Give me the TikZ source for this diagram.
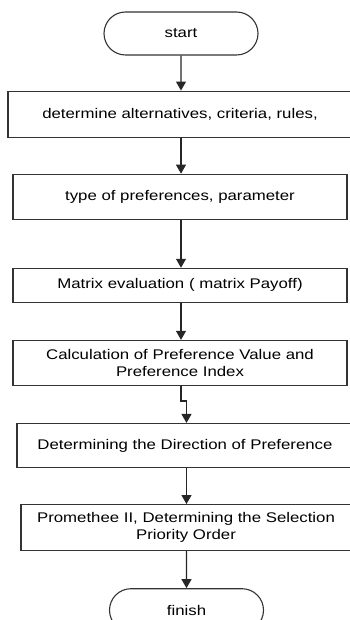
\documentclass[tikz,border=0pt]{standalone}
\usepackage{fontspec}
\setmainfont{Liberation Sans}[FakeStretch=1.2]
\usetikzlibrary{arrows.meta,positioning,shapes.misc}

\begin{document}
\begin{tikzpicture}[
    x=1pt, y=1pt,
    font=\fontsize{14}{16.5}\selectfont,
    node distance=36pt,
    term/.style={draw=black!80, line width=1.1pt, rounded rectangle, minimum width=154pt, minimum height=43pt, inner sep=0pt},
    box/.style={draw=black!80, line width=1.1pt, align=center, minimum height=45pt, inner sep=0pt},
    line/.style={-{Triangle[width=10pt,length=9pt]}, line width=1.1pt, black!85}
]
\useasboundingbox (0,0) rectangle (350,-620);
\node[term] (start) at (181,-33.5) {start};
\node[box, minimum width=344pt, minimum height=46pt, below=35pt of start, xshift=-1pt] (alts) {determine alternatives, criteria, rules,};
\node[box, minimum width=334pt, below=of alts] (prefs) {type of preferences, parameter};
\node[box, minimum width=334pt, minimum height=34pt, below=48pt of prefs] (matrix) {Matrix evaluation ( matrix Payoff)};
\node[box, minimum width=334pt, below=37pt of matrix] (index) {Calculation of Preference Value and\\Preference Index};
\node[box, minimum width=336pt, minimum height=44pt, below=37pt of index, xshift=5pt] (flow) {Determining the Direction of Preference};
\node[box, minimum width=330pt, minimum height=46pt, below=of flow, xshift=1pt] (rank) {Promethee II, Determining the Selection\\Priority Order};
\node[term, below=37pt of rank, xshift=0.5pt] (finish) {finish};
\draw[line] (start) -- (alts.north -| start);
\draw[line] (alts.south -| start) -- (prefs.north -| start);
\draw[line] (prefs.south -| start) -- (matrix.north -| start);
\draw[line] (matrix.south -| start) -- (index.north -| start);
\draw[line] (index.south -| start) -- ++(0,-15) -| (flow.north -| finish);
\draw[line] (flow.south -| finish) -- (rank.north -| finish);
\draw[line] (rank.south -| finish) -- (finish);
\end{tikzpicture}
\end{document}
